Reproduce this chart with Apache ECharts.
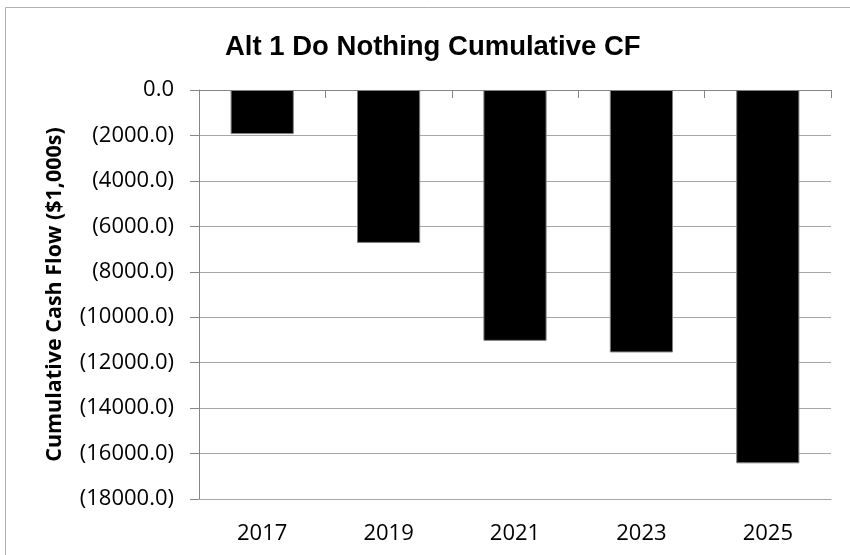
<!DOCTYPE html>
<html>
<head>
    <meta charset="UTF-8">
    <title>Alt 1 Do Nothing Cumulative CF</title>
    <style>
        html,body{margin:0;padding:0;background:#fff;}
        #chart{width:850px;height:555px;}
    </style>
</head>
<body>
<div id="chart"></div>
<script src="https://cdn.jsdelivr.net/npm/echarts@6/dist/echarts.min.js"></script>
<script>
    // data
    var years = ['2017', '2019', '2021', '2023', '2025'];
    var cumCF = [-1940, -6730, -11040, -11550, -16430];
    var yMin = -18000;
    var yMax = 0;
    var yStep = 2000;

    var gridColor = '#a6a6a6';
    var axisColor = '#868686';

    function fmt(v){
        if(v === 0) return '0.0';
        return '(' + Math.abs(v).toFixed(1) + ')';
    }

    var myChart = echarts.init(document.getElementById('chart'));
    var option = {
        backgroundColor: '#fff',
        animation: false,
        title: {
            text: 'Alt 1 Do Nothing Cumulative CF',
            left: 220,
            top: 28,
            textStyle: {
                fontFamily: 'Liberation Sans',
                fontWeight: 'bold',
                fontSize: 27.5,
                color: '#000'
            }
        },
        graphic: [{
            type: 'rect',
            shape: {x: 5.5, y: 7.5, width: 900, height: 600},
            style: {fill: 'none', stroke: '#b0b0b0', lineWidth: 1},
            silent: true
        }],
        grid: {
            left: 199,
            right: 19,
            top: 90,
            bottom: 56
        },
        xAxis: [{
            type: 'category',
            data: years,
            position: 'bottom',
            axisLine: {show: true, onZero: false, lineStyle: {color: gridColor}},
            axisTick: {show: false},
            axisLabel: {
                margin: 24,
                color: '#000',
                fontFamily: 'Open Sans',
                fontSize: 22
            }
        }, {
            type: 'category',
            data: years,
            position: 'top',
            axisLine: {show: true, onZero: false, lineStyle: {color: axisColor}},
            axisTick: {show: true, inside: true, length: 8, lineStyle: {color: axisColor}},
            axisLabel: {show: false}
        }],
        yAxis: {
            type: 'value',
            min: yMin,
            max: yMax,
            interval: yStep,
            name: 'Cumulative Cash Flow ($1,000s)',
            nameLocation: 'middle',
            nameGap: 133,
            nameTextStyle: {
                fontFamily: 'Open Sans',
                fontWeight: 'bold',
                fontSize: 21.5,
                color: '#000'
            },
            axisLine: {show: true, lineStyle: {color: axisColor}},
            axisTick: {show: true, length: 9, lineStyle: {color: axisColor}},
            axisLabel: {
                margin: 25,
                color: '#000',
                fontFamily: 'Open Sans',
                fontSize: 22,
                formatter: fmt
            },
            splitLine: {show: true, lineStyle: {color: gridColor, width: 1}}
        },
        series: [{
            type: 'bar',
            data: cumCF,
            barWidth: '50%',
            itemStyle: {
                color: '#000',
                borderColor: '#7f7f7f',
                borderWidth: 1
            }
        }]
    };
    myChart.setOption(option);
</script>
</body>
</html>
